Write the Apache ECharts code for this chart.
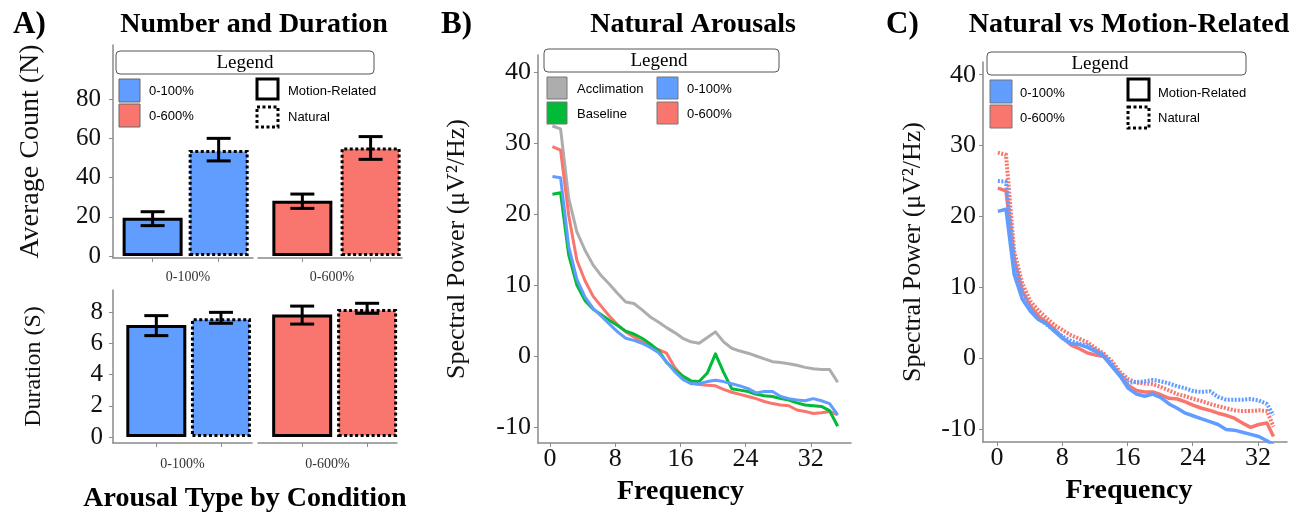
<!DOCTYPE html>
<html><head><meta charset="utf-8">
<script src="https://cdn.jsdelivr.net/npm/echarts@6/dist/echarts.min.js"></script>
<style>html,body{margin:0;padding:0;background:#fff}#c{width:1307px;height:512px}</style>
</head><body><div id="c"></div>
<script>
// ---------- data ----------
const conditions = ['0-100%', '0-600%'];
const arousalTypes = ['Motion-Related', 'Natural'];
const barPos = [1, 2];
const countMean100 = [19.5, 54.1];
const countLow100 = [15.5, 48.5];
const countHigh100 = [22.6, 60.0];
const countMean600 = [28.2, 55.4];
const countLow600 = [24.3, 49.3];
const countHigh600 = [31.6, 60.9];
const durMean100 = [7.17, 7.6];
const durLow100 = [6.49, 7.28];
const durHigh100 = [7.77, 7.98];
const durMean600 = [7.85, 8.19];
const durLow600 = [7.23, 7.92];
const durHigh600 = [8.38, 8.56];
const countTicks = [0, 20, 40, 60, 80];
const durTicks = [0, 2, 4, 6, 8];
const powerTicks = [-10, 0, 10, 20, 30, 40];
const freqTicks = [0, 8, 16, 24, 32];

const freqB = [0.3,1.3,2.3,3.3,4.3,5.3,6.3,7.3,8.3,9.3,10.3,11.3,12.3,13.3,14.3,15.3,16.3,17.3,18.3,19.3,20.3,21.3,22.3,23.3,24.3,25.3,26.3,27.3,28.3,29.3,30.3,31.3,32.3,33.3,34.3,35.3];
const acclimationB = [32.4,32.0,22.2,17.5,14.9,12.8,11.3,10.1,8.8,7.6,7.4,6.5,5.5,4.8,4.0,3.3,2.5,2.0,1.8,2.6,3.4,2.0,1.1,0.7,0.4,0.0,-0.4,-0.8,-0.9,-1.1,-1.3,-1.6,-1.8,-1.9,-1.9,-3.7];
const baselineB = [22.8,23.0,14.2,10.0,7.8,6.6,5.8,5.0,4.3,3.5,3.1,2.5,1.7,0.8,-0.9,-2.0,-2.8,-3.5,-3.6,-2.4,0.3,-2.3,-4.6,-4.8,-5.0,-5.4,-5.6,-5.7,-6.0,-6.2,-6.6,-6.9,-7.0,-7.1,-7.7,-9.9];
const pct100B = [25.3,25.1,15.4,10.8,8.3,6.7,5.6,4.5,3.4,2.5,2.2,1.8,1.2,0.5,-0.8,-2.2,-3.3,-3.9,-3.9,-3.6,-3.4,-3.6,-3.9,-4.2,-4.6,-5.2,-5.0,-5.0,-5.7,-6.0,-6.2,-6.3,-6.0,-6.3,-6.7,-8.3];
const pct600B = [29.5,29.0,19.8,13.5,10.6,8.4,7.0,5.6,4.4,3.4,2.7,2.0,1.3,0.9,0.4,-1.6,-2.9,-3.8,-4.0,-4.1,-4.2,-4.7,-5.1,-5.4,-5.7,-6.0,-6.4,-6.7,-6.9,-7.0,-7.6,-7.8,-8.1,-8.0,-7.8,-8.3];

const freqC = [0.1,1.1,2.1,3.1,4.1,5.1,6.1,7.1,8.1,9.1,10.1,11.1,12.1,13.1,14.1,15.1,16.1,17.1,18.1,19.1,20.1,21.1,22.1,23.1,24.1,25.1,26.1,27.1,28.1,29.1,30.1,31.1,32.1,33.1,33.9];
const motion100C = [20.7,21.0,11.8,8.3,6.6,5.4,4.8,3.7,2.7,2.0,1.9,1.5,0.9,0.2,-1.2,-2.6,-4.3,-5.1,-5.4,-5.1,-5.6,-6.5,-7.1,-7.8,-8.2,-8.6,-9.0,-9.4,-10.1,-10.2,-10.5,-10.8,-11.1,-11.7,-12.3];
const motion600C = [24.0,23.6,14.0,9.5,7.3,5.9,5.0,4.0,2.8,1.8,1.3,0.7,0.4,0.2,-1.2,-2.5,-3.9,-4.6,-4.8,-4.8,-5.2,-5.7,-5.8,-6.2,-6.7,-7.1,-7.4,-7.8,-8.1,-8.5,-9.2,-9.8,-9.4,-9.2,-11.1];
const natural600C = [29.0,28.7,15.1,10.5,8.0,6.7,5.6,4.6,3.9,3.2,2.7,2.2,1.4,0.6,-0.5,-2.0,-3.0,-3.5,-3.6,-3.7,-4.1,-4.6,-5.1,-5.4,-5.8,-6.1,-6.5,-6.8,-7.1,-7.4,-7.5,-7.5,-7.4,-7.5,-9.7];
const natural100C = [25.0,24.9,13.8,9.3,6.9,5.6,4.7,3.8,3.0,2.4,2.0,1.8,1.1,0.4,-0.9,-2.3,-3.5,-3.4,-3.3,-3.1,-3.3,-3.6,-4.0,-4.3,-4.7,-4.8,-4.7,-5.5,-5.9,-5.9,-5.9,-5.8,-6.0,-6.5,-8.1];

// ---------- style ----------
const BLUE = '#619CFF', RED = '#F8766D', GREEN = '#00BA38', GRAY = '#ADADAD';
const SERIF = 'Liberation Serif', SANS = 'Liberation Sans';
const AX = '#8a8a8a';

function xFacet(grid, min, max, name, gap, pad) {
  return { gridIndex: grid, type: 'value', min, max,
    axisLine: { show: true, onZero: false, lineStyle: { color: AX, width: 1.5 } },
    axisTick: { show: true, customValues: barPos, length: 4, lineStyle: { color: AX } },
    axisLabel: { show: false }, splitLine: { show: false },
    name, nameLocation: 'middle', nameGap: gap,
    nameTextStyle: { fontFamily: SERIF, fontSize: 14, color: '#333', padding: [0, 0, 0, pad] } };
}
function yAx(grid, min, max, ticks, name, gap, show, lblSize, nameSize, margin) {
  return { gridIndex: grid, type: 'value', min, max, show: show,
    axisLine: { show: true, onZero: false, lineStyle: { color: AX, width: 1.5 } },
    axisTick: { show: true, customValues: ticks, length: 4, lineStyle: { color: AX } },
    axisLabel: { customValues: ticks, fontFamily: SERIF, fontSize: lblSize, color: '#111', margin: margin },
    splitLine: { show: false },
    name, nameLocation: 'middle', nameGap: gap,
    nameTextStyle: { fontFamily: SERIF, fontSize: nameSize, color: '#111' } };
}
function xFreq(grid, min, max, pad) {
  return { gridIndex: grid, type: 'value', min, max,
    axisLine: { show: true, onZero: false, lineStyle: { color: AX, width: 1.5 } },
    axisTick: { show: true, customValues: freqTicks, length: 4, lineStyle: { color: AX } },
    axisLabel: { customValues: freqTicks, fontFamily: SERIF, fontSize: 26, color: '#111', margin: 3 },
    splitLine: { show: false },
    name: 'Frequency', nameLocation: 'middle', nameGap: 35,
    nameTextStyle: { fontFamily: SERIF, fontSize: 28, fontWeight: 'bold', color: '#000', padding: [0, pad, 0, 0] } };
}
function bars(grid, means, color) {
  return { type: 'bar', xAxisIndex: grid, yAxisIndex: grid, barWidth: 60,
    data: means.map((v, i) => ({ value: [barPos[i], v], name: arousalTypes[i],
      itemStyle: { color, borderColor: '#000', borderWidth: 3, borderType: i === 0 ? 'solid' : [3, 2.5] } })) };
}
function errs(grid, lo, hi) {
  return { type: 'custom', xAxisIndex: grid, yAxisIndex: grid, z: 10,
    data: barPos.map((p, i) => [p, lo[i], hi[i]]),
    encode: { x: 0, y: [1, 2] },
    renderItem: (params, api) => {
      const x = api.value(0);
      const a = api.coord([x, api.value(1)]);
      const b = api.coord([x, api.value(2)]);
      const hw = 12, st = { stroke: '#000', lineWidth: 3 };
      return { type: 'group', children: [
        { type: 'line', shape: { x1: a[0], y1: a[1], x2: b[0], y2: b[1] }, style: st },
        { type: 'line', shape: { x1: a[0] - hw, y1: a[1], x2: a[0] + hw, y2: a[1] }, style: st },
        { type: 'line', shape: { x1: b[0] - hw, y1: b[1], x2: b[0] + hw, y2: b[1] }, style: st } ] };
    } };
}
function line(grid, xs, ys, color, name, dash, width) {
  return { type: 'line', name, xAxisIndex: grid, yAxisIndex: grid, showSymbol: false, symbol: 'none',
    data: xs.map((f, i) => [f, ys[i]]),
    lineStyle: { color, width, type: dash || 'solid', cap: 'butt', join: 'round' } };
}
function txt(x, y, text, font, align, extra) {
  return Object.assign({ type: 'text', x, y, z: 100,
    style: { text, font, fill: '#000', align: align || 'center', verticalAlign: 'middle',
      textAlign: align || 'center', textVerticalAlign: 'middle' } }, extra || {});
}
function box(x, y, w, h, fill, stroke, lw, dash, r) {
  return { type: 'rect', z: 100, shape: { x, y, width: w, height: h, r: r || 0 },
    style: { fill, stroke, lineWidth: lw, lineDash: dash || null } };
}

const graphics = [
  txt(13, 25, 'A)', 'bold 31px ' + SERIF, 'left'),
  txt(254, 25, 'Number and Duration', 'bold 28px ' + SERIF),
  txt(441, 25, 'B)', 'bold 31px ' + SERIF, 'left'),
  txt(693, 25, 'Natural Arousals', 'bold 28px ' + SERIF),
  txt(886, 25, 'C)', 'bold 31px ' + SERIF, 'left'),
  txt(1129, 25, 'Natural vs Motion-Related', 'bold 28px ' + SERIF),
  txt(245, 499, 'Arousal Type by Condition', 'bold 28px ' + SERIF),
  // Legend A
  box(116, 51, 258, 23, '#fff', '#555', 1, null, 4),
  txt(245, 63, 'Legend', '19px ' + SERIF),
  box(119, 79, 21, 23, BLUE, '#666', 1),
  box(119, 104, 21, 23, RED, '#666', 1),
  txt(149, 91, conditions[0], '13px ' + SANS, 'left'),
  txt(149, 116, conditions[1], '13px ' + SANS, 'left'),
  box(257, 79, 21, 20, 'none', '#000', 3),
  box(257, 107, 21, 20, 'none', '#000', 3, [3, 2.5]),
  txt(288, 91, arousalTypes[0], '13px ' + SANS, 'left'),
  txt(288, 117, arousalTypes[1], '13px ' + SANS, 'left'),
  // Legend B
  box(544, 49, 235, 23, '#fff', '#555', 1, null, 4),
  txt(659, 61, 'Legend', '19px ' + SERIF),
  box(547, 77, 20, 22, GRAY, '#777', 1),
  box(547, 102, 20, 22, GREEN, '#777', 1),
  txt(577, 89, 'Acclimation', '13px ' + SANS, 'left'),
  txt(577, 114, 'Baseline', '13px ' + SANS, 'left'),
  box(657, 77, 21, 22, BLUE, '#777', 1),
  box(657, 102, 21, 22, RED, '#777', 1),
  txt(687, 89, conditions[0], '13px ' + SANS, 'left'),
  txt(687, 114, conditions[1], '13px ' + SANS, 'left'),
  // Legend C
  box(987, 52, 259, 23, '#fff', '#555', 1, null, 4),
  txt(1100, 64, 'Legend', '19px ' + SERIF),
  box(990, 80, 22, 23, BLUE, '#777', 1),
  box(990, 105, 22, 23, RED, '#777', 1),
  txt(1020, 93, conditions[0], '13px ' + SANS, 'left'),
  txt(1020, 118, conditions[1], '13px ' + SANS, 'left'),
  box(1128, 79, 21, 21, 'none', '#000', 3),
  box(1128, 107, 21, 21, 'none', '#000', 3, [3, 2.5]),
  txt(1158, 93, arousalTypes[0], '13px ' + SANS, 'left'),
  txt(1158, 118, arousalTypes[1], '13px ' + SANS, 'left')
];

const option = {
  animation: false,
  backgroundColor: '#fff',
  grid: [
    { left: 113, top: 45, width: 140, height: 213 },
    { left: 258, top: 45, width: 144, height: 213 },
    { left: 113, top: 290, width: 139, height: 153 },
    { left: 258, top: 290, width: 139, height: 153 },
    { left: 538, top: 55, width: 313, height: 388 },
    { left: 983, top: 62, width: 304, height: 380 }
  ],
  xAxis: [
    xFacet(0, 0.40, 2.52, conditions[0], 12, 10),
    xFacet(1, 0.35, 2.46, conditions[1], 12, 4),
    xFacet(2, 0.33, 2.48, conditions[0], 14, 0),
    xFacet(3, 0.32, 2.46, conditions[1], 14, 0),
    xFreq(4, -1.47, 36.93, 28),
    xFreq(5, -1.72, 35.56, 12)
  ],
  yAxis: [
    yAx(0, -1, 107.6, countTicks, 'Average Count (N)', 68, true, 25, 28, 12),
    yAx(1, -1, 107.6, countTicks, '', 0, false, 25, 28, 12),
    yAx(2, -0.38, 9.41, durTicks, 'Duration (S)', 67, true, 25, 24, 10),
    yAx(3, -0.38, 9.41, durTicks, '', 0, false, 25, 24, 10),
    yAx(4, -12.25, 42.4, powerTicks, 'Spectral Power (μV²/Hz)', 68, true, 26, 26, 7),
    yAx(5, -11.87, 41.8, powerTicks, 'Spectral Power (μV²/Hz)', 57, true, 26, 26, 7)
  ],
  graphic: { elements: graphics },
  series: [
    bars(0, countMean100, BLUE), errs(0, countLow100, countHigh100),
    bars(1, countMean600, RED), errs(1, countLow600, countHigh600),
    bars(2, durMean100, BLUE), errs(2, durLow100, durHigh100),
    bars(3, durMean600, RED), errs(3, durLow600, durHigh600),
    line(4, freqB, acclimationB, GRAY, 'Acclimation', null, 3),
    line(4, freqB, pct600B, RED, '0-600%', null, 3),
    line(4, freqB, baselineB, GREEN, 'Baseline', null, 3),
    line(4, freqB, pct100B, BLUE, '0-100%', null, 3),
    line(5, freqC, motion600C, RED, '0-600% Motion-Related', null, 3.5),
    line(5, freqC, natural600C, RED, '0-600% Natural', [2, 1.5], 4),
    line(5, freqC, motion100C, BLUE, '0-100% Motion-Related', null, 3.5),
    line(5, freqC, natural100C, BLUE, '0-100% Natural', [2, 1.5], 4)
  ]
};
const chart = echarts.init(document.getElementById('c'), null, { renderer: 'canvas' });
chart.setOption(option);
</script></body></html>
